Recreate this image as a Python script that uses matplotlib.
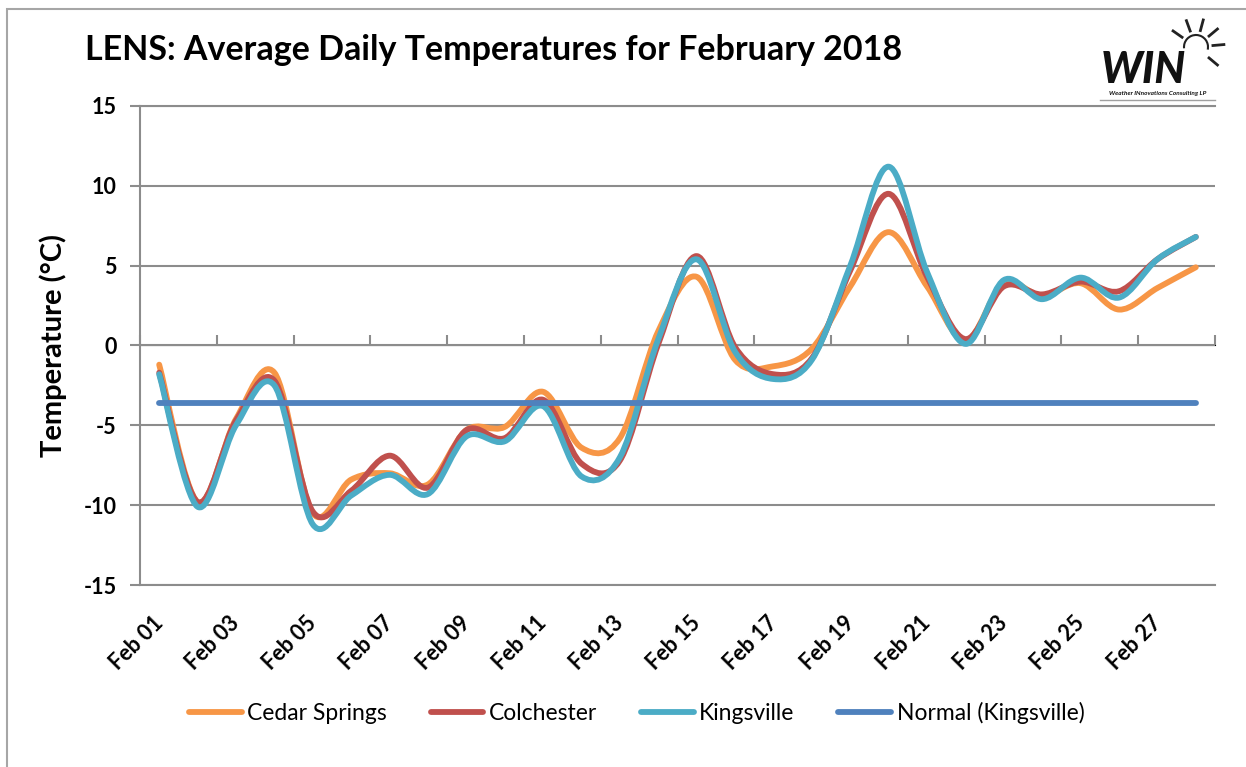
import matplotlib.pyplot as plt
import matplotlib.transforms as mtransforms
import numpy as np
from matplotlib.path import Path
from matplotlib.patches import PathPatch, Rectangle, Arc
from matplotlib.lines import Line2D

plt.rcParams['font.family'] = ['Lato', 'DejaVu Sans']
plt.rcParams['axes.unicode_minus'] = False

days = list(range(1, 29))
tick_labels = [f"Feb {d:02d}" for d in days]

cedar_springs = [-1.2, -9.8, -4.6, -1.7, -10.5, -8.4, -8.0, -8.7, -5.3, -5.1,
                 -2.9, -6.4, -5.8, 0.9, 4.3, -0.9, -1.3, -0.2, 3.7, 7.1,
                 3.7, 0.3, 3.9, 3.1, 3.9, 2.25, 3.6, 4.9]
colchester = [-1.7, -9.8, -4.7, -2.2, -10.4, -9.1, -6.9, -8.9, -5.3, -5.8,
              -3.4, -7.4, -7.2, 0.1, 5.6, -0.1, -1.8, -0.8, 4.7, 9.5,
              4.3, 0.4, 3.7, 3.2, 4.0, 3.4, 5.4, 6.8]
kingsville = [-1.8, -10.1, -5.0, -2.5, -11.2, -9.4, -8.1, -9.3, -5.7, -6.0,
              -3.8, -8.2, -7.0, 0.4, 5.4, -0.4, -2.1, -0.9, 5.0, 11.2,
              4.6, 0.1, 4.1, 2.9, 4.25, 3.0, 5.4, 6.8]
normal_kingsville = [-3.6] * 28

series = [
    ("Cedar Springs", cedar_springs, "#F79646"),
    ("Colchester", colchester, "#C0504D"),
    ("Kingsville", kingsville, "#4BACC6"),
]
normal_color = "#4F81BD"
grid_color = "#8C8C8C"


def smooth_path(x, y):
    # Excel-style smoothed line: cubic Bezier through every point
    pts = np.column_stack([x, y]).astype(float)
    n = len(pts)
    verts = [pts[0]]
    codes = [Path.MOVETO]
    for i in range(n - 1):
        p0 = pts[i - 1] if i > 0 else pts[i]
        p1 = pts[i]
        p2 = pts[i + 1]
        p3 = pts[i + 2] if i + 2 < n else pts[i + 1]
        c1 = p1 + (p2 - p0) / 6.0
        c2 = p2 - (p3 - p1) / 6.0
        verts += [c1, c2, p2]
        codes += [Path.CURVE4] * 3
    return Path(verts, codes)


fig = plt.figure(figsize=(12.46, 7.67), dpi=100)
W, H = 1246, 767
ax = fig.add_axes([140 / W, 1 - 585 / H, (1215 - 140) / W, (585 - 106) / H])

for name, vals, col in series:
    patch = PathPatch(smooth_path(days, vals), facecolor='none', edgecolor=col,
                      lw=4.2, capstyle='round', joinstyle='round', zorder=3)
    ax.add_patch(patch)
ax.plot(days, normal_kingsville, color=normal_color, lw=4.2,
        solid_capstyle='round', zorder=4)

ax.set_xlim(0.5, 28.5)
ax.set_ylim(-15, 15)
ax.set_yticks(range(-15, 16, 5))
ax.tick_params(axis='y', direction='out', length=7, width=1.5, color=grid_color,
               labelsize=15.5, pad=10)
for lab in ax.get_yticklabels():
    lab.set_fontweight('bold')
ax.grid(axis='y', color=grid_color, lw=1.5)
ax.set_axisbelow(True)

ax.spines['right'].set_visible(False)
for s in ['left', 'bottom', 'top']:
    ax.spines[s].set_color(grid_color)
    ax.spines[s].set_linewidth(1.5)

ax.set_xticks(days[::2])
ax.set_xticklabels(tick_labels[::2], rotation=45, ha='right', va='top',
                   rotation_mode='anchor', fontsize=15.5, fontweight='bold')
ax.tick_params(axis='x', length=0, pad=20)
shift = mtransforms.ScaledTranslation(-7 / 100, 0, fig.dpi_scale_trans)
for lab in ax.get_xticklabels():
    lab.set_transform(lab.get_transform() + shift)

# category axis crosses at zero, tick marks between categories
zero_axis = ax.secondary_xaxis(0.5)
zero_axis.set_xticks(np.arange(0.5, 29, 2))
zero_axis.set_xticklabels([])
zero_axis.tick_params(direction='out', length=7, width=1.5, color=grid_color)
zero_axis.spines['bottom'].set_color(grid_color)
zero_axis.spines['bottom'].set_linewidth(1.5)

ax.set_ylabel("Temperature (°C)", fontsize=21, fontweight='bold', labelpad=12)

handles = [Line2D([], [], color=c, lw=4.2, solid_capstyle='round') for _, _, c in series]
handles.append(Line2D([], [], color=normal_color, lw=4.2, solid_capstyle='round'))
labels = [n for n, _, _ in series] + ["Normal (Kingsville)"]
fig.legend(handles, labels, loc='center', bbox_to_anchor=(0.511, 1 - 713 / H),
           ncol=4, frameon=False, fontsize=16.5, handlelength=2.3,
           handletextpad=0.25, columnspacing=1.9)

fig.text(85 / W, 1 - 50 / H, "LENS: Average Daily Temperatures for February 2018",
         fontsize=24.5, fontweight='bold', va='center', ha='left')

# chart border
fig.patches.append(Rectangle((7 / W, -0.1), 1.2, 1 - 9 / H + 0.1, transform=fig.transFigure,
                             fill=False, edgecolor='#A6A6A6', lw=1.5))

# WIN logo
fig.text(1101 / W, 1 - 70 / H, "WIN", fontsize=31, fontweight='black', style='italic',
         va='center', ha='left', color='#111111')
fig.text(1158 / W, 1 - 93 / H, "Weather INnovations Consulting LP", fontsize=4.6,
         fontweight='bold', style='italic', va='center', ha='center', color='#111111')
fig.lines.append(Line2D([1100 / W, 1215 / W], [1 - 100 / H, 1 - 100 / H],
                        transform=fig.transFigure, color='#A0A0A0', lw=1))
cx, cy = 1196, 47
fig.patches.append(Arc((cx / W, 1 - cy / H), 24 / W, 24 / H, theta1=-20, theta2=190,
                       transform=fig.transFigure, color='#222222', lw=1.5))
for ang in [-40, 5, 40, 75, 110, 145]:
    a = np.deg2rad(ang)
    x0, y0 = cx + 17 * np.cos(a), cy - 17 * np.sin(a)
    x1, y1 = cx + 28 * np.cos(a), cy - 28 * np.sin(a)
    fig.lines.append(Line2D([x0 / W, x1 / W], [1 - y0 / H, 1 - y1 / H],
                            transform=fig.transFigure, color='#222222', lw=2))

fig.savefig("out.png", dpi=100)
